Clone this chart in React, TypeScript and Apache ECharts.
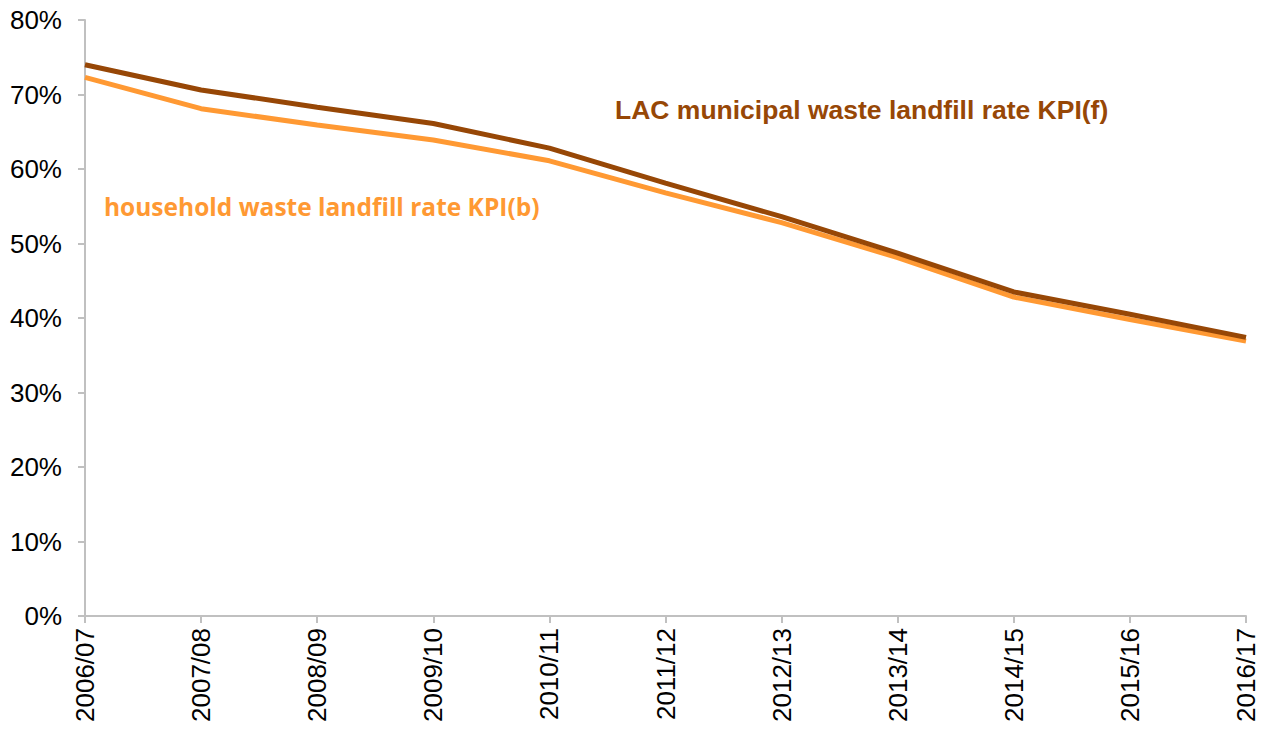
import React, { useEffect, useRef } from "react";
import * as echarts from "echarts";

const categories = ["2006/07", "2007/08", "2008/09", "2009/10", "2010/11", "2011/12", "2012/13", "2013/14", "2014/15", "2015/16", "2016/17"];
const lacMunicipal = [74.0, 70.6, 68.3, 66.1, 62.8, 58.1, 53.6, 48.7, 43.5, 40.5, 37.4];
const household = [72.3, 68.1, 65.9, 63.9, 61.1, 56.8, 52.8, 48.1, 42.8, 39.8, 36.9];
const yTicks = [0, 10, 20, 30, 40, 50, 60, 70, 80];

export default function App() {
  const ref = useRef<HTMLDivElement>(null);
  useEffect(() => {
    if (!ref.current) return;
    const chart = echarts.init(ref.current, null, { renderer: "svg" });
    chart.setOption({
      animation: false,
      backgroundColor: "#ffffff",
      grid: { left: 85, right: 20, top: 20, bottom: 115 },
      xAxis: {
        type: "category",
        data: categories,
        boundaryGap: false,
        axisLine: { lineStyle: { color: "#c0c0c0", width: 2 } },
        axisTick: { show: true, alignWithLabel: true, length: 7, lineStyle: { color: "#c0c0c0", width: 2 } },
        axisLabel: { rotate: 90, margin: 12, fontSize: 26, color: "#000000", fontFamily: "Liberation Sans, Arial" },
        splitLine: { show: false },
      },
      yAxis: {
        type: "value",
        min: yTicks[0],
        max: yTicks[yTicks.length - 1],
        interval: 10,
        axisLine: { show: true, lineStyle: { color: "#c0c0c0", width: 2 } },
        axisTick: { show: true, length: 7, lineStyle: { color: "#c0c0c0", width: 2 } },
        axisLabel: { formatter: "{value}%", margin: 23, fontSize: 26, color: "#000000", fontFamily: "Liberation Sans, Arial" },
        splitLine: { show: false },
      },
      series: [
        {
          name: "household waste landfill rate KPI(b)",
          type: "line",
          data: household,
          showSymbol: false,
          symbol: "none",
          lineStyle: { color: "#ff9933", width: 5 },
          z: 2,
        },
        {
          name: "LAC municipal waste landfill rate KPI(f)",
          type: "line",
          data: lacMunicipal,
          showSymbol: false,
          symbol: "none",
          lineStyle: { color: "#974706", width: 5 },
          z: 3,
        },
      ],
      graphic: [
        {
          type: "text",
          x: 615,
          y: 110,
          style: {
            text: "LAC municipal waste landfill rate KPI(f)",
            fill: "#974706",
            font: "bold 26.5px 'Liberation Sans', Arial",
            verticalAlign: "middle",
          },
        },
        {
          type: "text",
          x: 104,
          y: 206,
          style: {
            text: "household waste landfill rate KPI(b)",
            fill: "#ff9933",
            font: "bold 24.5px 'Open Sans', 'Noto Sans'",
            verticalAlign: "middle",
          },
        },
      ],
    });
    return () => chart.dispose();
  }, []);
  return <div ref={ref} style={{ width: 1266, height: 731, position: "absolute", left: 0, top: 0 }} />;
}
